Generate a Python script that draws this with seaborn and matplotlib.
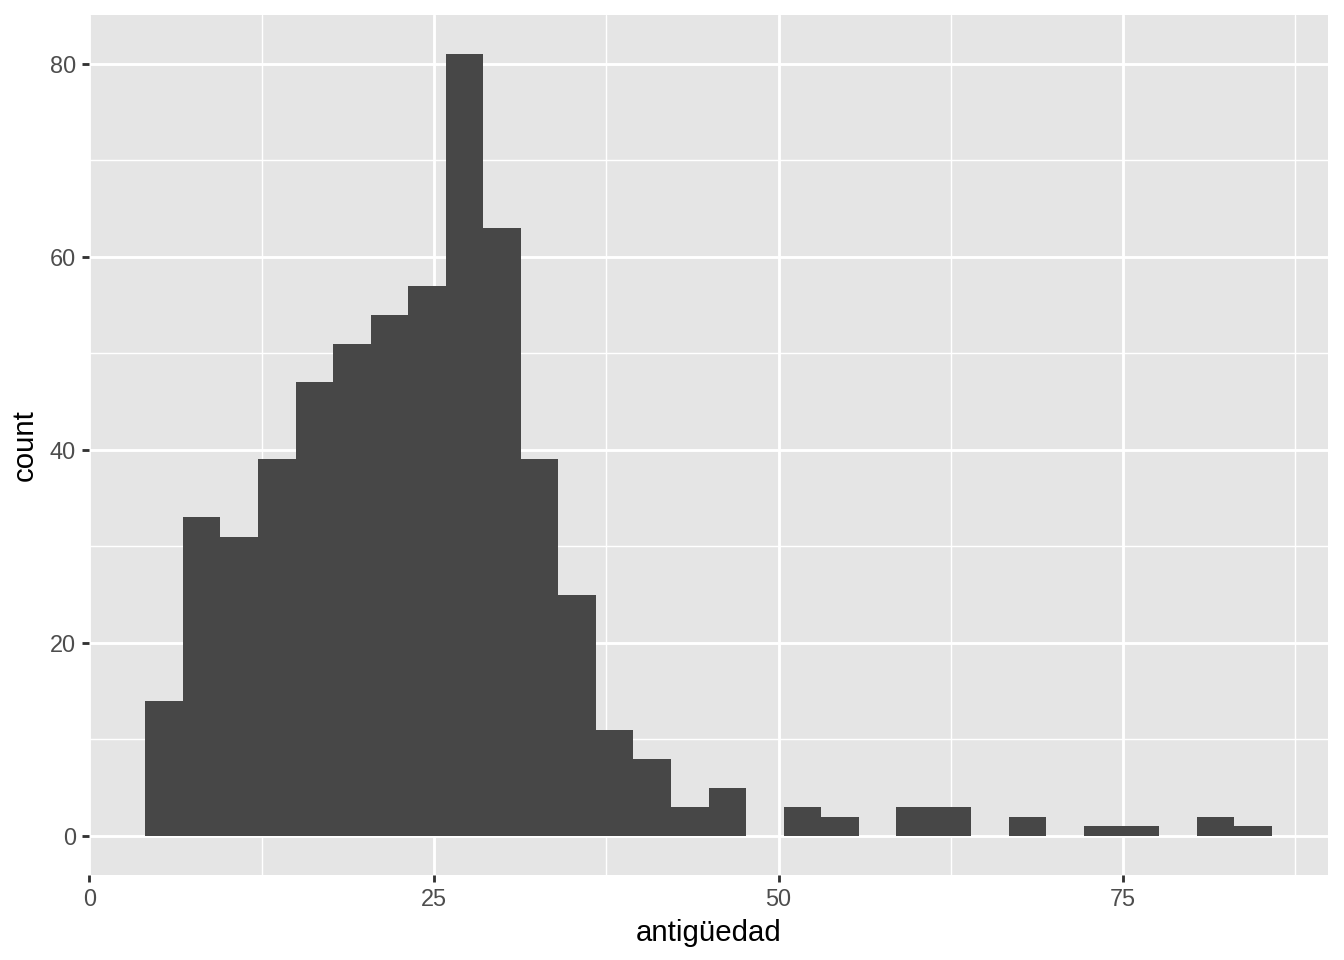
import numpy as np
import pandas as pd
import matplotlib
matplotlib.use("Agg")
import matplotlib.pyplot as plt
import seaborn as sns

# histogram counts (30 bins)
counts = [14, 33, 31, 39, 47, 51, 54, 57, 81, 63,
          39, 25, 11, 8, 3, 5, 0, 3, 2, 0,
          3, 3, 0, 2, 0, 1, 1, 0, 2, 1]
bin_start = 4.06
bin_width = 2.724
x_ticks = [0, 25, 50, 75]
y_ticks = [0, 20, 40, 60, 80]

edges = bin_start + bin_width * np.arange(len(counts) + 1)
centers = (edges[:-1] + edges[1:]) / 2
df = pd.DataFrame({"antigüedad": centers, "n": counts})

sns.set_style("darkgrid", {
    "axes.facecolor": "#E5E5E5",
    "grid.color": "white",
})
plt.rcParams['font.family'] = ['Liberation Sans', 'DejaVu Sans']

fig = plt.figure(figsize=(7, 5), dpi=192)
ax = fig.add_axes([89 / 1344, 1 - 875 / 960, 1239 / 1344, 860 / 960])

sns.histplot(data=df, x="antigüedad", weights="n", bins=list(edges), ax=ax,
             color="#474747", alpha=1, linewidth=0)

span = edges[-1] - edges[0]
ax.set_xlim(edges[0] - 0.05 * span, edges[-1] + 0.05 * span)
ax.set_ylim(-0.05 * max(counts), 1.05 * max(counts))

ax.set_xticks(x_ticks)
ax.set_yticks(y_ticks)
ax.set_xticks([12.5, 37.5, 62.5, 87.5], minor=True)
ax.set_yticks([10, 30, 50, 70], minor=True)
ax.grid(which="major", color="white", linewidth=1.07)
ax.grid(which="minor", color="white", linewidth=0.53)
ax.set_axisbelow(True)
for s in ax.spines.values():
    s.set_visible(False)

ax.tick_params(axis="both", which="major", bottom=True, left=True,
               length=2.75, width=1.07, direction="out",
               color="#333333", labelcolor="#4D4D4D", labelsize=8.8, pad=2.2)
ax.tick_params(axis="both", which="minor", length=0)

ax.set_xlabel("antigüedad", fontsize=11, color="black", labelpad=3)
ax.set_ylabel("count", fontsize=11, color="black", labelpad=4)

fig.savefig("out.png", dpi=192)
